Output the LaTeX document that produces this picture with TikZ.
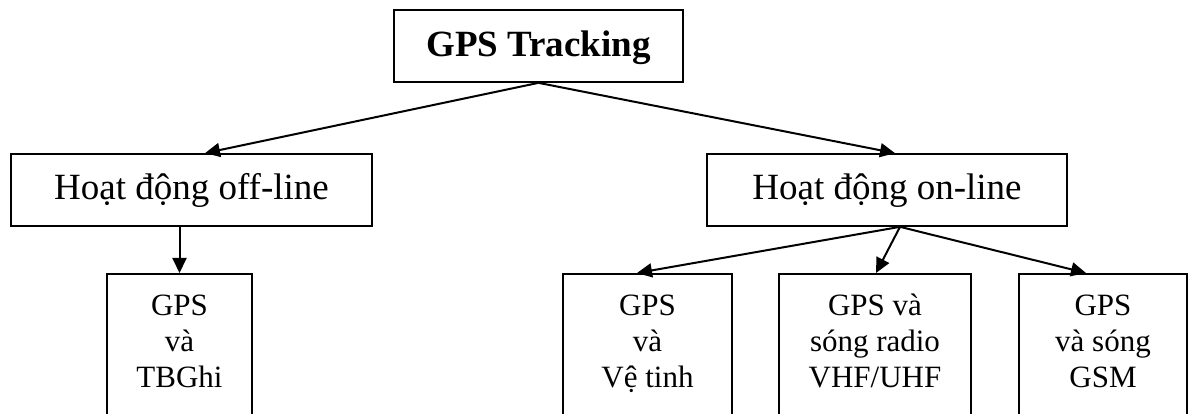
\documentclass[tikz,border=0pt]{standalone}
\usepackage{fontspec}
\setmainfont{Liberation Serif}
\usetikzlibrary{arrows.meta}

\tikzset{
  conn/.style={line width=2pt, -{Triangle[length=15pt,width=14pt]}},
  headbox/.style={draw, line width=1.7pt, inner sep=0pt, minimum height=72pt,
    font=\fontsize{37}{44}\selectfont, text height=28pt, text depth=8pt},
  titlebox/.style={headbox, font=\bfseries\fontsize{37}{44}\selectfont,
    text height=29pt, text depth=7pt},
  leafbox/.style={draw, line width=1.7pt, inner sep=0pt, anchor=north,
    minimum height=180pt},
  leaftext/.style={inner sep=0pt, anchor=north, align=center,
    font=\fontsize{31}{36}\selectfont},
}

\begin{document}
\begin{tikzpicture}[x=1pt, y=-1pt]
  \clip (0,0) rectangle (1189,414);
  \fill[white] (0,0) rectangle (1189,414);

  % root
  \node[titlebox, minimum width=289pt] (root) at (538.5,46) {GPS Tracking};

  % two operating modes
  \node[headbox, minimum width=361pt] (off) at (191.5,190) {Hoạt động off-line};
  \node[headbox, minimum width=360pt] (on)  at (887,190)   {Hoạt động on-line};

  % leaves
  \node[leafbox, minimum width=145pt] (b1) at (179.5,273) {};
  \node[leafbox, minimum width=169pt] (b2) at (647.5,273) {};
  \node[leafbox, minimum width=192pt] (b3) at (875,273) {};
  \node[leafbox, minimum width=168pt] (b4) at (1103,273) {};

  \node[leaftext] (t1) at ([yshift=-16.8pt]b1.north) {\strut GPS\\và\\TBGhi};
  \node[leaftext] (t2) at ([yshift=-16.8pt]b2.north) {\strut GPS\\và\\Vệ tinh};
  \node[leaftext] (t3) at ([yshift=-16.8pt]b3.north) {\strut GPS và\\sóng radio\\VHF/UHF};
  \node[leaftext] (t4) at ([yshift=-16.8pt]b4.north) {\strut GPS\\và sóng\\GSM};

  % connectors
  \draw[conn] (root.south) -- ([xshift=13.5pt]off.north);
  \draw[conn] (root.south) -- ([xshift=8pt]on.north);
  \draw[conn] ([xshift=-12pt]off.south) -- (b1.north);
  \draw[conn] ([xshift=13pt]on.south) -- ([xshift=-10.5pt]b2.north);
  \draw[conn] ([xshift=13pt]on.south) -- ([xshift=1pt]b3.north);
  \draw[conn] ([xshift=13pt]on.south) -- ([xshift=-17pt]b4.north);
\end{tikzpicture}
\end{document}
